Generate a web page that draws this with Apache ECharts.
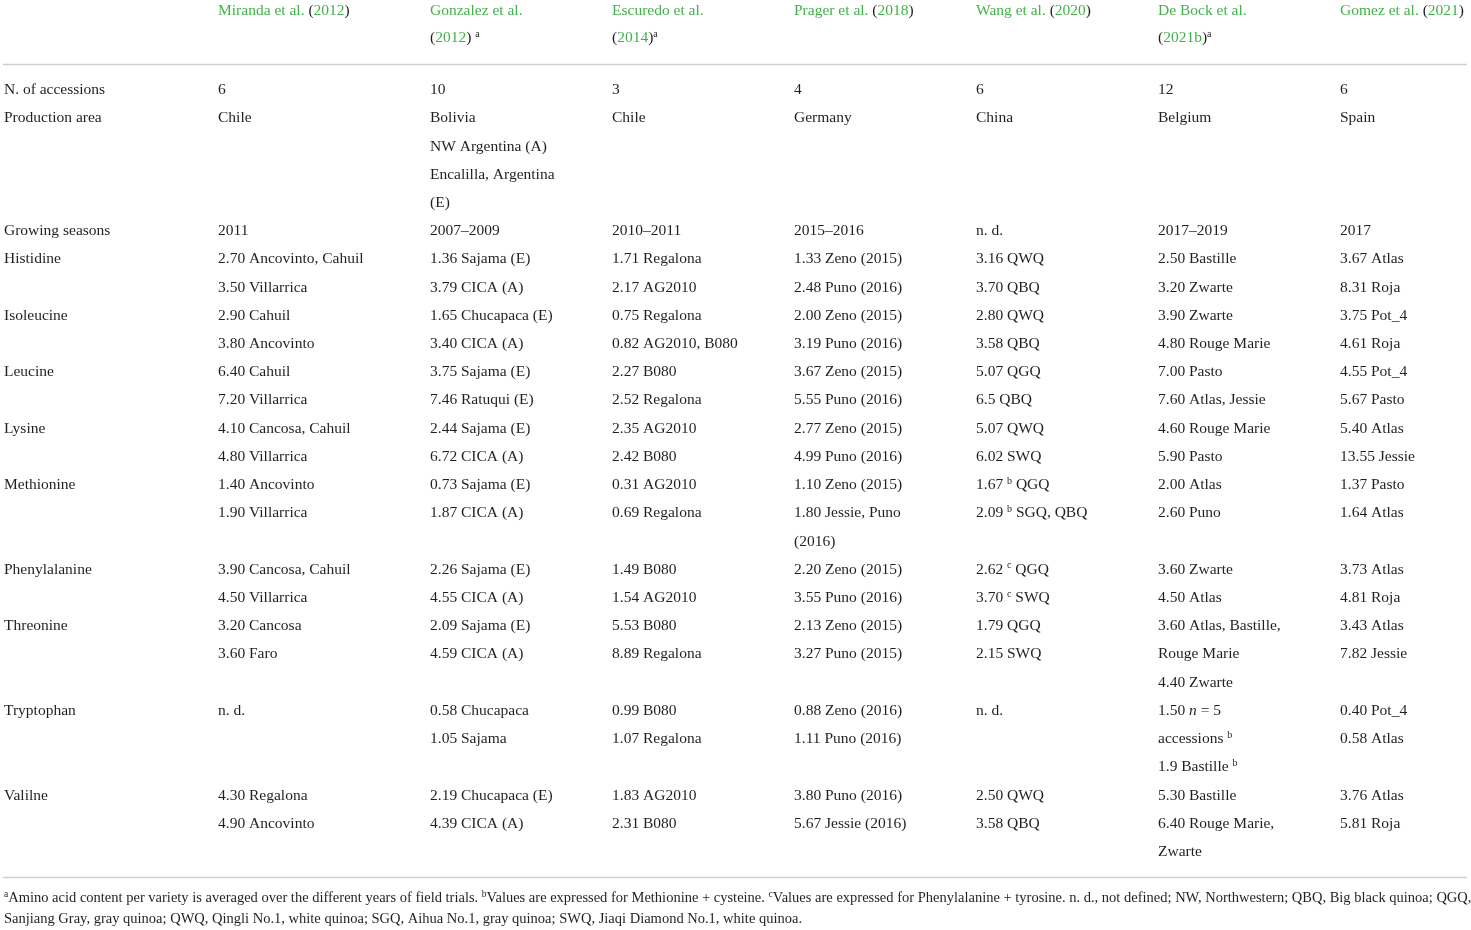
<!DOCTYPE html>
<html>
<head>
<meta charset="utf-8">
<script src="https://cdn.jsdelivr.net/npm/echarts@6/dist/echarts.min.js"></script>
<style>
  html, body { margin: 0; padding: 0; background: #fff; }
  #main { width: 1471px; height: 930px; }
</style>
</head>
<body>
<div id="main"></div>
<script>
// header: one entry per study, each a list of lines ({g|..} green, {sup|..} superscript)
var studies = [
  ['{g|Miranda et al.} ({g|2012})'],
  ['{g|Gonzalez et al.}', '({g|2012}) {sup|a}'],
  ['{g|Escuredo et al.}', '({g|2014}){sup|a}'],
  ['{g|Prager et al.} ({g|2018})'],
  ['{g|Wang et al.} ({g|2020})'],
  ['{g|De Bock et al.}', '({g|2021b}){sup|a}'],
  ['{g|Gomez et al.} ({g|2021})']
];

var rowLabels = ['N. of accessions', 'Production area', 'Growing seasons', 'Histidine', 'Isoleucine',
  'Leucine', 'Lysine', 'Methionine', 'Phenylalanine', 'Threonine', 'Tryptophan', 'Valilne'];

// one list per row, one cell per study, each cell a list of lines
var accessions = [['6'], ['10'], ['3'], ['4'], ['6'], ['12'], ['6']];
var productionArea = [['Chile'], ['Bolivia', 'NW Argentina (A)', 'Encalilla, Argentina', '(E)'], ['Chile'],
  ['Germany'], ['China'], ['Belgium'], ['Spain']];
var growingSeasons = [['2011'], ['2007–2009'], ['2010–2011'], ['2015–2016'], ['n. d.'], ['2017–2019'], ['2017']];
var histidine = [
  ['2.70 Ancovinto, Cahuil', '3.50 Villarrica'],
  ['1.36 Sajama (E)', '3.79 CICA (A)'],
  ['1.71 Regalona', '2.17 AG2010'],
  ['1.33 Zeno (2015)', '2.48 Puno (2016)'],
  ['3.16 QWQ', '3.70 QBQ'],
  ['2.50 Bastille', '3.20 Zwarte'],
  ['3.67 Atlas', '8.31 Roja']
];
var isoleucine = [
  ['2.90 Cahuil', '3.80 Ancovinto'],
  ['1.65 Chucapaca (E)', '3.40 CICA (A)'],
  ['0.75 Regalona', '0.82 AG2010, B080'],
  ['2.00 Zeno (2015)', '3.19 Puno (2016)'],
  ['2.80 QWQ', '3.58 QBQ'],
  ['3.90 Zwarte', '4.80 Rouge Marie'],
  ['3.75 Pot_4', '4.61 Roja']
];
var leucine = [
  ['6.40 Cahuil', '7.20 Villarrica'],
  ['3.75 Sajama (E)', '7.46 Ratuqui (E)'],
  ['2.27 B080', '2.52 Regalona'],
  ['3.67 Zeno (2015)', '5.55 Puno (2016)'],
  ['5.07 QGQ', '6.5 QBQ'],
  ['7.00 Pasto', '7.60 Atlas, Jessie'],
  ['4.55 Pot_4', '5.67 Pasto']
];
var lysine = [
  ['4.10 Cancosa, Cahuil', '4.80 Villarrica'],
  ['2.44 Sajama (E)', '6.72 CICA (A)'],
  ['2.35 AG2010', '2.42 B080'],
  ['2.77 Zeno (2015)', '4.99 Puno (2016)'],
  ['5.07 QWQ', '6.02 SWQ'],
  ['4.60 Rouge Marie', '5.90 Pasto'],
  ['5.40 Atlas', '13.55 Jessie']
];
var methionine = [
  ['1.40 Ancovinto', '1.90 Villarrica'],
  ['0.73 Sajama (E)', '1.87 CICA (A)'],
  ['0.31 AG2010', '0.69 Regalona'],
  ['1.10 Zeno (2015)', '1.80 Jessie, Puno', '(2016)'],
  ['1.67 {sup|b} QGQ', '2.09 {sup|b} SGQ, QBQ'],
  ['2.00 Atlas', '2.60 Puno'],
  ['1.37 Pasto', '1.64 Atlas']
];
var phenylalanine = [
  ['3.90 Cancosa, Cahuil', '4.50 Villarrica'],
  ['2.26 Sajama (E)', '4.55 CICA (A)'],
  ['1.49 B080', '1.54 AG2010'],
  ['2.20 Zeno (2015)', '3.55 Puno (2016)'],
  ['2.62 {sup|c} QGQ', '3.70 {sup|c} SWQ'],
  ['3.60 Zwarte', '4.50 Atlas'],
  ['3.73 Atlas', '4.81 Roja']
];
var threonine = [
  ['3.20 Cancosa', '3.60 Faro'],
  ['2.09 Sajama (E)', '4.59 CICA (A)'],
  ['5.53 B080', '8.89 Regalona'],
  ['2.13 Zeno (2015)', '3.27 Puno (2015)'],
  ['1.79 QGQ', '2.15 SWQ'],
  ['3.60 Atlas, Bastille,', 'Rouge Marie', '4.40 Zwarte'],
  ['3.43 Atlas', '7.82 Jessie']
];
var tryptophan = [
  ['n. d.'],
  ['0.58 Chucapaca', '1.05 Sajama'],
  ['0.99 B080', '1.07 Regalona'],
  ['0.88 Zeno (2016)', '1.11 Puno (2016)'],
  ['n. d.'],
  ['1.50 {it|n} = 5', 'accessions {sup|b}', '1.9 Bastille {sup|b}'],
  ['0.40 Pot_4', '0.58 Atlas']
];
var valine = [
  ['4.30 Regalona', '4.90 Ancovinto'],
  ['2.19 Chucapaca (E)', '4.39 CICA (A)'],
  ['1.83 AG2010', '2.31 B080'],
  ['3.80 Puno (2016)', '5.67 Jessie (2016)'],
  ['2.50 QWQ', '3.58 QBQ'],
  ['5.30 Bastille', '6.40 Rouge Marie,', 'Zwarte'],
  ['3.76 Atlas', '5.81 Roja']
];

var footnotes = [
  '{fsup|a}Amino acid content per variety is averaged over the different years of field trials. {fsup|b}Values are expressed for Methionine + cysteine. {fsup|c}Values are expressed for Phenylalanine + tyrosine. n. d., not defined; NW, Northwestern; QBQ, Big black quinoa; QGQ,',
  'Sanjiang Gray, gray quinoa; QWQ, Qingli No.1, white quinoa; SGQ, Aihua No.1, gray quinoa; SWQ, Jiaqi Diamond No.1, white quinoa.'
];

var rows = [accessions, productionArea, growingSeasons, histidine, isoleucine, leucine,
  lysine, methionine, phenylalanine, threonine, tryptophan, valine];

var FONT = '"Liberation Serif", "DejaVu Serif", serif';
var GREEN = '#43b14b';
var INK = '#231f20';
var BODY = 15.5;
var NOTE = 14.5;
var colX = [4, 218, 430, 612, 794, 976, 1158, 1340];
var headerY = [11, 38];
var bodyTop = 90;
var lineStep = 28.22;

var rich = {
  g: { fontFamily: FONT, fontSize: BODY, fill: GREEN, lineHeight: 18 },
  sup: { fontFamily: FONT, fontSize: 10, verticalAlign: 'top', lineHeight: 10, fill: INK },
  fsup: { fontFamily: FONT, fontSize: 9.5, verticalAlign: 'top', lineHeight: 9.5, fill: INK },
  it: { fontFamily: FONT, fontSize: BODY, fontStyle: 'italic', lineHeight: 18, fill: INK }
};

function textEl(x, y, str, size) {
  return {
    type: 'text',
    x: x,
    y: y,
    silent: true,
    style: {
      text: str,
      fontFamily: FONT,
      fontSize: size || BODY,
      fill: INK,
      lineHeight: 18,
      verticalAlign: 'middle',
      align: 'left',
      rich: rich
    }
  };
}

var elements = [];

studies.forEach(function (lines, i) {
  lines.forEach(function (l, k) {
    elements.push(textEl(colX[i + 1], headerY[k], l));
  });
});

elements.push({
  type: 'line', silent: true,
  shape: { x1: 3, y1: 64.5, x2: 1467, y2: 64.5 },
  style: { stroke: '#cfcfcf', lineWidth: 1.6 }
});

var line = 0;
rows.forEach(function (cells, r) {
  elements.push(textEl(colX[0], bodyTop + line * lineStep, rowLabels[r]));
  var span = 1;
  cells.forEach(function (cell, c) {
    cell.forEach(function (l, k) {
      elements.push(textEl(colX[c + 1], bodyTop + (line + k) * lineStep, l));
    });
    span = Math.max(span, cell.length);
  });
  line += span;
});

elements.push({
  type: 'line', silent: true,
  shape: { x1: 3, y1: 877.5, x2: 1467, y2: 877.5 },
  style: { stroke: '#cfcfcf', lineWidth: 1.6 }
});

footnotes.forEach(function (f, k) {
  elements.push(textEl(4, 898 + k * 21, f, NOTE));
});

var chart = echarts.init(document.getElementById('main'), null, { renderer: 'canvas' });
chart.setOption({
  backgroundColor: '#fff',
  animation: false,
  graphic: { elements: elements }
});
</script>
</body>
</html>
